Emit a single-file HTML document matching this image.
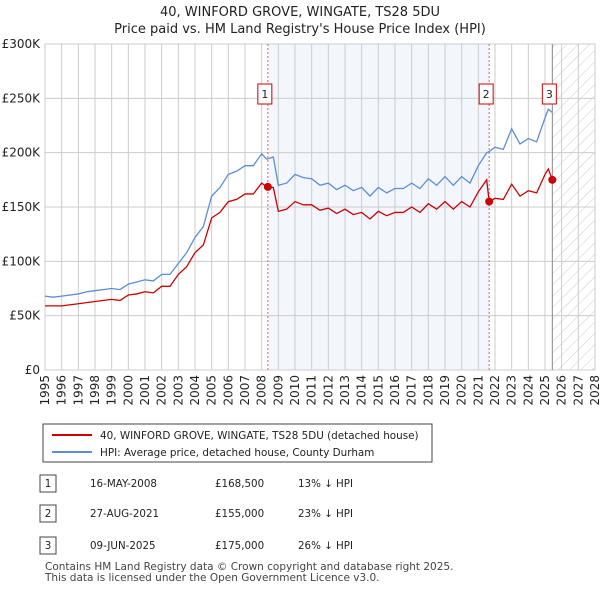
<!DOCTYPE html>
<html><head><meta charset="utf-8"><style>
body{margin:0;background:#fff;font-family:"DejaVu Sans","Liberation Sans",sans-serif;}
svg text{font-family:"DejaVu Sans","Liberation Sans",sans-serif;}
</style></head><body>
<svg id="c" width="600" height="590" xmlns="http://www.w3.org/2000/svg">
<defs><pattern id="hatch" width="8" height="8" patternUnits="userSpaceOnUse" patternTransform="rotate(45)"><line x1="0" y1="0" x2="0" y2="8" stroke="#ccc" stroke-width="1"/></pattern></defs>
<text x="300" y="16" text-anchor="middle" font-size="13" fill="#222">40, WINFORD GROVE, WINGATE, TS28 5DU</text>
<text x="300" y="33" text-anchor="middle" font-size="13" fill="#222">Price paid vs. HM Land Registry's House Price Index (HPI)</text>
<g id="plot"></g>
<g>
<rect x="43" y="424" width="389" height="38" fill="#fff" stroke="#444"/>
<line x1="52" y1="435" x2="92" y2="435" stroke="#cc0000" stroke-width="2"/>
<text x="100" y="439" font-size="10.4" fill="#222">40, WINFORD GROVE, WINGATE, TS28 5DU (detached house)</text>
<line x1="52" y1="452" x2="92" y2="452" stroke="#5b8ed6" stroke-width="2"/>
<text x="100" y="456" font-size="10.4" fill="#222">HPI: Average price, detached house, County Durham</text>
</g>
<g font-size="10.3" fill="#222">
<rect x="40" y="475" width="16" height="17" fill="#fff" stroke="#444"/><text x="48" y="487" text-anchor="middle">1</text>
<text x="90" y="487">16-MAY-2008</text><text x="215" y="487">£168,500</text><text x="298" y="487">13% ↓ HPI</text>
<rect x="40" y="505" width="16" height="17" fill="#fff" stroke="#444"/><text x="48" y="517" text-anchor="middle">2</text>
<text x="90" y="517">27-AUG-2021</text><text x="215" y="517">£155,000</text><text x="298" y="517">23% ↓ HPI</text>
<rect x="40" y="537" width="16" height="17" fill="#fff" stroke="#444"/><text x="48" y="549" text-anchor="middle">3</text>
<text x="90" y="549">09-JUN-2025</text><text x="215" y="549">£175,000</text><text x="298" y="549">26% ↓ HPI</text>
</g>
<text x="45" y="570" font-size="10.5" fill="#444">Contains HM Land Registry data © Crown copyright and database right 2025.</text>
<text x="45" y="581" font-size="10.5" fill="#444">This data is licensed under the Open Government Licence v3.0.</text>
</svg>
<script>
const years=[1995,1995.5,1996,1997,1997.5,1998,1999,1999.5,2000,2000.5,2001,2001.5,2002,2002.5,2003,2003.5,2004,2004.5,2005,2005.5,2006,2006.5,2007,2007.5,2008,2008.3,2008.7,2009,2009.5,2010,2010.5,2011,2011.5,2012,2012.5,2013,2013.5,2014,2014.5,2015,2015.5,2016,2016.5,2017,2017.5,2018,2018.5,2019,2019.5,2020,2020.5,2021,2021.5,2021.65,2022,2022.5,2023,2023.5,2024,2024.5,2025,2025.2,2025.44];
const hpi=[68,67,68,70,72,73,75,74,79,81,83,82,88,88,98,108,122,132,160,168,180,183,188,188,199,194,196,170,172,180,177,176,170,172,166,170,165,168,160,168,163,167,167,172,167,176,170,178,170,178,172,188,200,201,205,203,222,208,213,210,232,240,237];
const price=[59,59,59,61,62,63,65,64,69,70,72,71,77,77,88,95,108,115,140,145,155,157,162,162,172,168.5,168,146,148,155,152,152,147,149,144,148,143,145,139,146,142,145,145,150,145,153,148,155,148,155,150,164,175,155,158,157,171,160,165,163,180,185,175];
const sales=[{t:2008.37,v:168.5,n:"1"},{t:2021.65,v:155,n:"2"},{t:2025.44,v:175,n:"3"}];
const yTicks=[0,50,100,150,200,250,300];
const yLabels=["£0","£50K","£100K","£150K","£200K","£250K","£300K"];
const x0=45,x1=595,y0=370,y1=44;
const X=t=>x0+(t-1995)/(2028-1995)*(x1-x0);
const Y=v=>y0-v/300*(y0-y1);
const NS="http://www.w3.org/2000/svg";
const g=document.getElementById('plot');
function mk(tag,attrs){const e=document.createElementNS(NS,tag);for(const k in attrs)e.setAttribute(k,attrs[k]);g.appendChild(e);return e;}
let e=mk('rect',{x:X(2008.37),y:y1,width:X(2021.65)-X(2008.37),height:y0-y1,fill:'#f3f6fd'});

e=mk('rect',{x:X(2025.44),y:y1,width:x1-X(2025.44),height:y0-y1,fill:'url(#hatch)'});

for(let yr=1995;yr<=2028;yr++){
 e=mk('line',{x1:X(yr),x2:X(yr),y1:y1,y2:y0,stroke:'#ccc','stroke-width':1});
 
 e=mk('text',{x:0,y:0,'font-size':12,fill:'#222','text-anchor':'end',transform:`translate(${X(yr)+4},${y0+5}) rotate(-90)`});
 e.textContent=yr;
 
}
yTicks.forEach((v,i)=>{
 e=mk('line',{x1:x0,x2:x1,y1:Y(v),y2:Y(v),stroke:'#ccc','stroke-width':1});
 
 e=mk('text',{x:x0-5,y:Y(v)+4,'font-size':12,fill:'#222','text-anchor':'end'});
 e.textContent=yLabels[i];
 
});
e=mk('rect',{x:x0,y:y1,width:x1-x0,height:y0-y1,fill:'none',stroke:'#ccc'});

sales.forEach(s=>{
 e=mk('line',{x1:X(s.t),x2:X(s.t),y1:y1,y2:y0,stroke:s.n==="3"?'#888':'#e06060','stroke-width':1,'stroke-dasharray':s.n==="3"?'':'2,2'});
 
});
e=mk('polyline',{points:years.map((t,i)=>X(t)+','+Y(hpi[i])).join(' '),fill:'none',stroke:'#5b8ed6','stroke-width':1.3});

e=mk('polyline',{points:years.map((t,i)=>X(t)+','+Y(price[i])).join(' '),fill:'none',stroke:'#cc0000','stroke-width':1.3});

sales.forEach(s=>{
 e=mk('circle',{cx:X(s.t),cy:Y(s.v),r:4,fill:'#cc0000'});
 
 e=mk('rect',{x:X(s.t)-10,y:84,width:14,height:20,fill:'#fff',stroke:'#cc0000'});
 
 e=mk('text',{x:X(s.t)-3,y:98,'font-size':11,fill:'#222','text-anchor':'middle'});
 e.textContent=s.n;
 
});
</script>
</body></html>
